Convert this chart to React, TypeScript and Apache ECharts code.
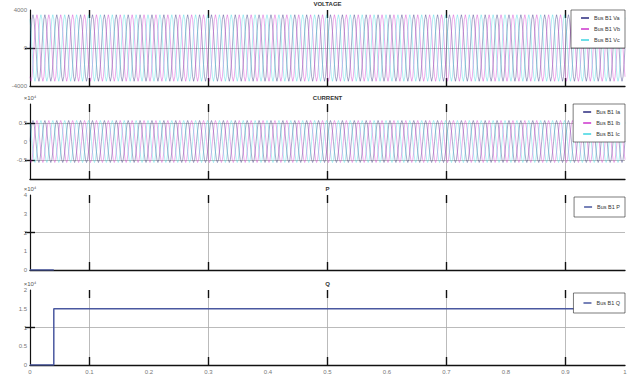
import React, { useEffect, useRef } from "react";
import * as echarts from "echarts";

// ---- data ----
const T_END = 1; // s
const CYCLES = 50; // visible periods across the time span
const TIME_TICKS = [0.1, 0.3, 0.5, 0.7, 0.9];

// one period of each phase voltage (V), 12 samples / cycle
const VA_CYCLE = [0, 1750, 3030, 3500, 3030, 1750, 0, -1750, -3030, -3500, -3030, -1750];
const VB_CYCLE = [-3030, -3500, -3030, -1750, 0, 1750, 3030, 3500, 3030, 1750, 0, -1750];
const VC_CYCLE = [3030, 1750, 0, -1750, -3030, -3500, -3030, -1750, 0, 1750, 3030, 3500];

// one period of each phase current (A)
const IA_CYCLE = [0, 2800, 4850, 5600, 4850, 2800, 0, -2800, -4850, -5600, -4850, -2800];
const IB_CYCLE = [-4850, -5600, -4850, -2800, 0, 2800, 4850, 5600, 4850, 2800, 0, -2800];
const IC_CYCLE = [4850, 2800, 0, -2800, -4850, -5600, -4850, -2800, 0, 2800, 4850, 5600];

const P_TIMES = [0, 0.04];
const P_VALUES = [0, 0];
const Q_TIMES = [0, 0.04, 0.04, 1];
const Q_VALUES = [0, 0, 15000, 15000];

const V_NAMES = ["Bus B1 Va", "Bus B1 Vb", "Bus B1 Vc"];
const I_NAMES = ["Bus B1 Ia", "Bus B1 Ib", "Bus B1 Ic"];
const P_NAME = "Bus B1 P";
const Q_NAME = "Bus B1 Q";
const TITLES = ["VOLTAGE", "CURRENT", "P", "Q"];

const PHASE_COLORS = ["#2a2a7e", "#cc33cc", "#3cd4e0"];
const PQ_COLOR = "#4a58a0";
const FONT = "Liberation Sans, Arial, sans-serif";

function repeatCycle(cycle: number[]): [number, number][] {
  const n = cycle.length;
  const total = CYCLES * n;
  const out: [number, number][] = [];
  for (let c = 0; c < CYCLES; c++) {
    for (let k = 0; k < n; k++) {
      out.push([((c * n + k) / total) * T_END, cycle[k]]);
    }
  }
  out.push([T_END, cycle[0]]);
  return out;
}

function pairs(ts: number[], vs: number[]): [number, number][] {
  return ts.map((t, i) => [t, vs[i]]);
}

export default function App() {
  const ref = useRef<HTMLDivElement>(null);
  useEffect(() => {
    document.body.style.margin = "0";
    const chart = echarts.init(ref.current!, null, { renderer: "svg" });

    const grids = [
      { left: 30, right: 7, top: 10, height: 76 },
      { left: 30, right: 7, top: 104, height: 75 },
      { left: 30, right: 7, top: 195, height: 75 },
      { left: 30, right: 7, top: 290, height: 75 },
    ];

    const tickStyle = { color: "#111", width: 1.4 };

    const xAxis: any[] = [];
    grids.forEach((_, i) => {
      xAxis.push({
        type: "value",
        gridIndex: i,
        min: 0,
        max: T_END,
        interval: 0.1,
        position: "bottom",
        axisLine: { show: true, onZero: false, lineStyle: { color: "#111", width: 1.3 } },
        axisTick: { show: true, inside: true, length: 8, customValues: TIME_TICKS, lineStyle: tickStyle },
        axisLabel: { show: i === 3, fontSize: 6, color: "#777", fontFamily: FONT, margin: 4 },
        splitLine: { show: true, lineStyle: { color: "#aaa", width: 0.8 } },
      });
      xAxis.push({
        type: "value",
        gridIndex: i,
        min: 0,
        max: T_END,
        interval: 0.1,
        position: "top",
        axisLine: { show: true, onZero: false, lineStyle: { color: "#fff", opacity: 0 } },
        axisTick: { show: true, inside: true, length: 8, customValues: TIME_TICKS, lineStyle: tickStyle },
        axisLabel: { show: false },
        splitLine: { show: false },
      });
    });

    const yCfg = [
      { min: -4000, max: 4000, interval: 4000, ticks: [0], fmt: (v: number) => String(v), name: "", hideEnds: false },
      { min: -10000, max: 10000, interval: 5000, ticks: [-5000, 5000], fmt: (v: number) => String(v / 10000), name: "×10⁴", hideEnds: true },
      { min: 0, max: 40000, interval: 10000, ticks: [20000], fmt: (v: number) => String(v / 10000), name: "×10⁴", hideEnds: false },
      { min: 0, max: 20000, interval: 5000, ticks: [10000], fmt: (v: number) => String(v / 10000), name: "×10⁴", hideEnds: false },
    ];

    const yAxis: any[] = [];
    yCfg.forEach((c, i) => {
      yAxis.push({
        type: "value",
        gridIndex: i,
        min: c.min,
        max: c.max,
        interval: c.interval,
        position: "left",
        name: c.name,
        nameLocation: "end",
        nameGap: 3,
        nameTextStyle: { fontSize: 6, color: "#555", fontFamily: FONT },
        axisLine: { show: false },
        axisTick: { show: true, inside: true, length: 5, customValues: c.ticks, lineStyle: tickStyle },
        axisLabel: {
          fontSize: 6,
          color: "#777",
          fontFamily: FONT,
          margin: 3,
          formatter: c.fmt,
          showMinLabel: !c.hideEnds,
          showMaxLabel: !c.hideEnds,
        },
        splitLine: { show: true, lineStyle: { color: "#aaa", width: 0.8 } },
      });
      yAxis.push({
        type: "value",
        gridIndex: i,
        min: c.min,
        max: c.max,
        interval: c.interval,
        position: "right",
        axisLine: { show: true, lineStyle: { color: "#111", width: 1.2 } },
        axisTick: { show: true, inside: true, length: 5, customValues: c.ticks, lineStyle: tickStyle },
        axisLabel: { show: false },
        splitLine: { show: false },
      });
    });

    const line = (name: string, data: [number, number][], color: string, g: number, width = 0.5, opacity = 0.8) => ({
      type: "line",
      name,
      data,
      xAxisIndex: 2 * g,
      yAxisIndex: 2 * g,
      showSymbol: false,
      symbol: "none",
      color,
      lineStyle: { width, color, opacity },
      silent: true,
    });

    const series = [
      line(V_NAMES[0], repeatCycle(VA_CYCLE), PHASE_COLORS[0], 0),
      line(V_NAMES[1], repeatCycle(VB_CYCLE), PHASE_COLORS[1], 0),
      line(V_NAMES[2], repeatCycle(VC_CYCLE), PHASE_COLORS[2], 0),
      line(I_NAMES[0], repeatCycle(IA_CYCLE), PHASE_COLORS[0], 1),
      line(I_NAMES[1], repeatCycle(IB_CYCLE), PHASE_COLORS[1], 1),
      line(I_NAMES[2], repeatCycle(IC_CYCLE), PHASE_COLORS[2], 1),
      line(P_NAME, pairs(P_TIMES, P_VALUES), PQ_COLOR, 2, 1.5, 1),
      line(Q_NAME, pairs(Q_TIMES, Q_VALUES), PQ_COLOR, 3, 1.5, 1),
    ];

    const legendBase = {
      orient: "vertical",
      right: 7,
      itemWidth: 8,
      itemHeight: 1.5,
      itemGap: 5,
      icon: "rect",
      backgroundColor: "#fff",
      borderColor: "#222",
      borderWidth: 0.6,
      padding: [5, 5, 5, 10],
      textStyle: { fontSize: 5.5, color: "#333", fontFamily: FONT },
      selectedMode: false,
    };

    const option: any = {
      animation: false,
      backgroundColor: "#fff",
      title: TITLES.map((t, i) => ({
        text: t,
        left: 327.5,
        textAlign: "center",
        top: grids[i].top - 9,
        textStyle: { fontSize: 6, fontWeight: "bold", color: "#333", fontFamily: FONT },
        padding: 0,
      })),
      grid: grids,
      xAxis,
      yAxis,
      legend: [
        { ...legendBase, top: 10, data: V_NAMES },
        { ...legendBase, top: 104, data: I_NAMES },
        { ...legendBase, top: 197, padding: [7, 5, 7, 10], data: [P_NAME] },
        { ...legendBase, top: 293, padding: [7, 5, 7, 10], data: [Q_NAME] },
      ],
      series,
    };

    chart.setOption(option);
    return () => chart.dispose();
  }, []);

  return <div ref={ref} style={{ position: "absolute", left: 0, top: 0, width: 632, height: 380 }} />;
}
